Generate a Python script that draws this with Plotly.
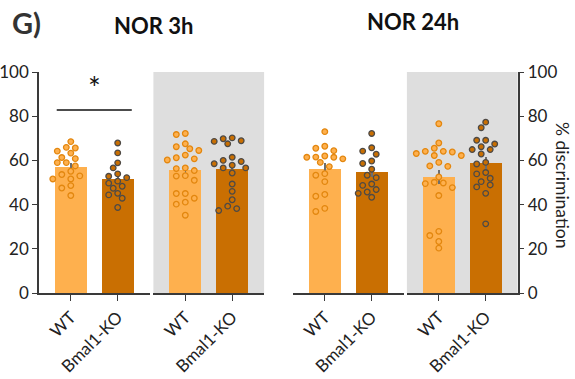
import numpy as np
import plotly.graph_objects as go

# ---- data: % discrimination per animal ----
groups = ["WT", "Bmal1-KO"]
session_titles = ["NOR 3h", "NOR 24h"]

wt_3h_open = [68.5, 65.9, 65.6, 64.2, 63.3, 61.3, 60.8, 59.0, 59.0, 57.5,
              55.1, 53.6, 53.0, 51.6, 51.6, 48.6, 47.5, 44.1]
ko_3h_open = [67.9, 63.4, 58.9, 56.6, 53.9, 52.8, 52.2, 50.6, 49.7, 48.3,
              47.4, 45.1, 44.4, 42.9, 38.7]
wt_3h_shaded = [72.2, 71.7, 67.5, 66.2, 65.3, 64.5, 62.4, 61.2, 60.7, 60.2,
                56.6, 56.3, 55.4, 53.1, 52.9, 51.0, 45.0, 45.0, 42.9, 41.1,
                40.2, 35.2]
ko_3h_shaded = [70.2, 69.8, 68.9, 68.6, 67.5, 61.4, 60.0, 59.5, 58.5, 57.8,
                56.6, 56.6, 54.3, 49.3, 46.0, 42.2, 39.3, 38.2, 37.3]
wt_24h_open = [73.0, 66.4, 65.5, 64.4, 62.0, 61.5, 61.4, 61.4, 60.7, 59.1,
               57.2, 54.0, 53.3, 50.4, 44.6, 43.8, 38.3, 36.9]
ko_24h_open = [72.2, 65.7, 64.2, 62.8, 59.7, 58.6, 56.0, 53.3, 52.2, 49.3,
               48.7, 46.8, 45.7, 45.1, 43.3]
wt_24h_shaded = [76.6, 67.9, 65.5, 64.1, 64.1, 63.8, 63.1, 62.2, 62.2, 59.1,
                 57.5, 57.3, 52.5, 50.1, 49.8, 49.5, 47.7, 44.1, 27.9, 26.0,
                 23.3, 20.3]
ko_24h_shaded = [77.3, 74.8, 69.1, 69.1, 67.4, 66.2, 64.9, 64.9, 62.9, 59.1,
                 58.4, 54.5, 53.9, 51.9, 50.4, 48.9, 48.0, 45.1, 31.3]

panels = [
    (wt_3h_open, ko_3h_open, False),
    (wt_3h_shaded, ko_3h_shaded, True),
    (wt_24h_open, ko_24h_open, False),
    (wt_24h_shaded, ko_24h_shaded, True),
]

y_ticks = [0, 20, 40, 60, 80, 100]

# ---- styling ----
W, H = 575, 379
FONT = "Lato"
WT_BAR = "#FEB04E"
KO_BAR = "#C96F02"
WT_EDGE = "#E3870F"
KO_EDGE = "#4E4A46"
SHADE = "#DEDEDE"
AXIS = "#3A3A3A"

# panel placement (pixels in the 575x379 canvas)
panel_px = [(38.9, 149.6), (153.4, 264.1), (292.9, 403.6), (406.9, 517.6)]
y_px = (72.0, 293.0)  # top (100) and bottom (0) of the value axis
x_range = [-0.68, 1.68]
px_per_x = (panel_px[0][1] - panel_px[0][0]) / (x_range[1] - x_range[0])
px_per_y = (y_px[1] - y_px[0]) / 100.0


def px_to_paper_x(px):
    return px / W


def px_to_paper_y(py):
    return 1 - py / H


def swarm_offsets(values, step_px=4.5, min_dist_px=6.6):
    """Beeswarm layout: each point goes to the nearest free slot beside the centre."""
    vals = np.asarray(values, dtype=float)
    order = np.argsort(-vals, kind="stable")
    placed = []
    offsets = np.zeros(len(vals))
    cands = [0]
    for k in range(1, 12):
        cands += [-k, k]
    for idx in order:
        yy = vals[idx] * px_per_y
        for k in cands:
            xx = k * step_px
            if all((xx - px_) ** 2 + (yy - py_) ** 2 >= min_dist_px ** 2 for px_, py_ in placed):
                break
        placed.append((xx, yy))
        offsets[idx] = xx / px_per_x
    return offsets


fig = go.Figure()
shapes = []

for i, (wt, ko, shaded) in enumerate(panels):
    xa = "x" if i == 0 else f"x{i + 1}"
    xa_layout = "xaxis" if i == 0 else f"xaxis{i + 1}"
    means = [float(np.mean(wt)), float(np.mean(ko))]
    sems = [float(np.std(wt, ddof=1) / np.sqrt(len(wt))),
            float(np.std(ko, ddof=1) / np.sqrt(len(ko)))]

    fig.add_trace(go.Bar(
        x=[0, 1], y=means, width=0.67,
        marker=dict(color=[WT_BAR, KO_BAR], line=dict(width=0)),
        error_y=dict(type="data", array=sems, color="#6E6E6E", thickness=1.6, width=0),
        xaxis=xa, yaxis="y", showlegend=False, hoverinfo="skip",
    ))
    for j, (vals, fill, edge) in enumerate([(wt, WT_BAR, WT_EDGE), (ko, KO_BAR, KO_EDGE)]):
        fig.add_trace(go.Scatter(
            x=j + swarm_offsets(vals), y=vals, mode="markers",
            marker=dict(size=5.6, color=fill, line=dict(color=edge, width=1.3)),
            xaxis=xa, yaxis="y", showlegend=False, hoverinfo="skip",
        ))

    if shaded:
        shapes.append(dict(type="rect", xref=f"{xa} domain", yref="y",
                           x0=0, x1=1, y0=0, y1=100, fillcolor=SHADE,
                           line=dict(width=0), layer="below"))

    fig.layout[xa_layout] = dict(
        domain=[px_to_paper_x(panel_px[i][0]), px_to_paper_x(panel_px[i][1])],
        range=x_range, anchor="y", tickmode="array", tickvals=[0, 1], ticktext=groups,
        tickangle=-45, ticks="outside", ticklen=6, tickwidth=1.3, tickcolor=AXIS,
        showline=True, linecolor=AXIS, linewidth=1.5, showgrid=False, zeroline=False,
        tickfont=dict(family=FONT, size=17, color="#222"), fixedrange=True,
        automargin=False,
    )

# invisible trace that carries the right-hand value axis
fig.add_trace(go.Scatter(x=[0], y=[0], mode="markers", marker=dict(opacity=0),
                         xaxis="x4", yaxis="y2", showlegend=False, hoverinfo="skip"))

yaxis_common = dict(
    domain=[px_to_paper_y(y_px[1]), px_to_paper_y(y_px[0])], range=[0, 100],
    tickmode="array", tickvals=y_ticks, ticks="outside", ticklen=5, tickwidth=1.3,
    tickcolor=AXIS, showline=True, linecolor=AXIS, linewidth=1.5, showgrid=False,
    zeroline=False, tickfont=dict(family=FONT, size=17, color="#222"), fixedrange=True,
    automargin=False,
)
fig.update_layout(
    yaxis=dict(anchor="x", side="left", **yaxis_common),
    yaxis2=dict(anchor="x4", side="right", overlaying="y", **yaxis_common),
)

# significance bracket for the first WT vs Bmal1-KO comparison
shapes.append(dict(type="line", xref="x", yref="y", x0=-0.3, x1=1.3, y0=82.8, y1=82.8,
                   line=dict(color="#111", width=1.6)))


def text_at(text, x_px, y_px_, size, color, angle=0):
    return dict(text=text, x=px_to_paper_x(x_px), y=px_to_paper_y(y_px_),
                xref="paper", yref="paper", xanchor="center", yanchor="middle",
                showarrow=False, textangle=angle, borderpad=0,
                font=dict(family=FONT, size=size, color=color))


annotations = [
    dict(text="*", x=0.5, y=93.0, xref="x", yref="y", showarrow=False,
         xanchor="center", yanchor="middle",
         font=dict(family=FONT, size=30, color="#111")),
    text_at("<b>G)</b>", 26, 22, 29, "#333"),
    text_at(f"<b>{session_titles[0]}</b>", 154, 26, 22, "#111"),
    text_at(f"<b>{session_titles[1]}</b>", 413, 21, 22, "#111"),
    text_at("% discrimination", 563, 185, 17.5, "#222", angle=90),
]

fig.update_layout(
    width=W, height=H, margin=dict(l=0, r=0, t=0, b=0),
    paper_bgcolor="white", plot_bgcolor="rgba(0,0,0,0)",
    shapes=shapes, annotations=annotations, bargap=0, showlegend=False,
)

fig.write_html("out.html")
